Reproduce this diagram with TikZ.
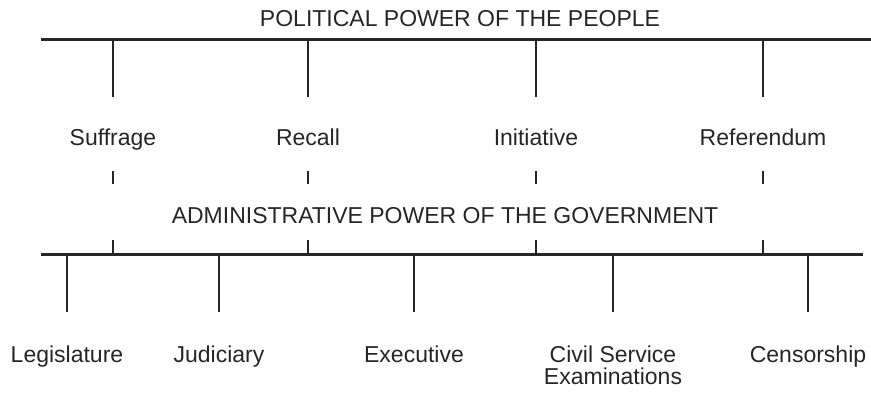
\documentclass[tikz,border=0pt]{standalone}
\usepackage{fontspec}
\setmainfont{Liberation Sans}
\usetikzlibrary{positioning}
\tikzset{
x=1pt, y=-1pt, % one unit is one pixel of the figure, y runs downwards
bar/.style={line width=3pt, black!85}, % the two long bars
tick/.style={line width=1.3pt, black!85}, % the thin vertical lines
heading/.style={anchor=base, inner sep=0pt, text=black!85}, % the two titles
power/.style={anchor=base, inner sep=0pt, text=black!85, align=center}, % names of the powers
}
\begin{document}
\begin{tikzpicture}[font=\fontsize{23}{22}\selectfont]
\useasboundingbox (0,0) rectangle (871,394);
% political power of the people
\node[heading] (people) at (460,26) {POLITICAL POWER OF THE PEOPLE};
\coordinate (pl) at (41,39);
\coordinate (pr) at (871,39);
\draw[bar] (pl) -- (pr);
\node[power] (suffrage) at (113,145) {Suffrage};
\node[power] (recall) at (308,145) {Recall};
\node[power] (initiative) at (536,145) {Initiative};
\node[power] (referendum) at (763,145) {Referendum};
\draw[tick]
    (pl -| suffrage) -- ++(0,58)
    (pl -| recall) -- ++(0,58)
    (pl -| initiative) -- ++(0,58)
    (pl -| referendum) -- ++(0,58)
    ;
% administrative power of the government
\node[heading] (government) at (445,223) {ADMINISTRATIVE POWER OF THE GOVERNMENT};
\coordinate (gl) at (41,254);
\coordinate (gr) at (863,254);
\draw[bar] (gl) -- (gr);
\draw[tick]
    (suffrage.base) ++(0,26) -- ++(0,13)
    (recall.base) ++(0,26) -- ++(0,13)
    (initiative.base) ++(0,26) -- ++(0,13)
    (referendum.base) ++(0,26) -- ++(0,13)
    (gl -| suffrage) -- ++(0,-14)
    (gl -| recall) -- ++(0,-14)
    (gl -| initiative) -- ++(0,-14)
    (gl -| referendum) -- ++(0,-14)
    ;
\node[power] (legislature) at (67,362) {Legislature};
\node[power] (judiciary) at (219,362) {Judiciary};
\node[power] (executive) at (414,362) {Executive};
\node[power] (civil) at (613,384) {Civil Service\\Examinations};
\node[power] (censorship) at (808,362) {Censorship};
\draw[tick]
    (gl -| legislature) -- ++(0,58)
    (gl -| judiciary) -- ++(0,58)
    (gl -| executive) -- ++(0,58)
    (gl -| civil) -- ++(0,58)
    (gl -| censorship) -- ++(0,58)
    ;
\end{tikzpicture}
\end{document}
